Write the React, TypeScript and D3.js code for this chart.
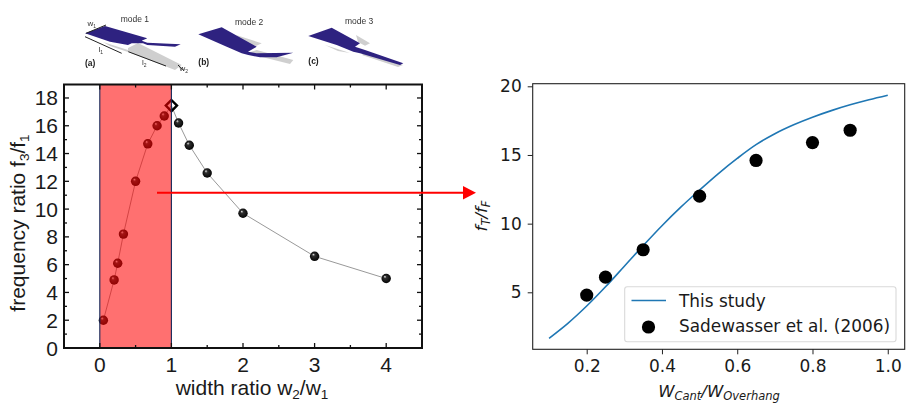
import { useEffect, useRef } from 'react';
import * as d3 from 'd3';

const ratioX = [0.05, 0.2, 0.25, 0.33, 0.5, 0.67, 0.8, 0.9, 1.0, 1.1, 1.25, 1.5, 2, 3, 4];
const ratioY = [2, 4.9, 6.1, 8.2, 12, 14.7, 16, 16.7, 17.45, 16.2, 14.6, 12.6, 9.7, 6.6, 5];
const diamondIndex = 8;
const bandRange = [0, 1];
const leftXTicks = [0, 1, 2, 3, 4];
const leftXMinor = [0.5, 1.5, 2.5, 3.5];
const leftYTicks = [0, 2, 4, 6, 8, 10, 12, 14, 16, 18];
const leftYMinor = [1, 3, 5, 7, 9, 11, 13, 15, 17];

const studyX = [0.1, 0.15, 0.2, 0.25, 0.3, 0.35, 0.4, 0.45, 0.5, 0.55, 0.6, 0.65, 0.7, 0.75, 0.8, 0.85, 0.9, 0.95, 1.0];
const studyY = [1.65, 2.74, 4.0, 5.4, 6.9, 8.4, 9.85, 11.2, 12.45, 13.65, 14.75, 15.75, 16.55, 17.2, 17.75, 18.23, 18.65, 19.02, 19.35];
const sadeX = [0.2, 0.25, 0.35, 0.5, 0.65, 0.8, 0.9];
const sadeY = [4.8, 6.1, 8.1, 12, 14.6, 15.9, 16.8];
const rightXTicks = [0.2, 0.4, 0.6, 0.8, 1.0];
const rightYTicks = [5, 10, 15, 20];
const legendLabels = ['This study', 'Sadewasser et al. (2006)'];

const modeLabels = ['mode 1', 'mode 2', 'mode 3'];
const panelLabels = ['(a)', '(b)', '(c)'];

const ARIAL = 'Liberation Sans, Arial, sans-serif';
const DEJAVU = 'DejaVu Sans, sans-serif';
const PURPLE = '#2e2180';
const GREY = '#cfcfcf';

function drawSketches(svg: d3.Selection<SVGSVGElement, unknown, null, undefined>) {
  const g = svg.append('g').attr('filter', 'url(#soft)');

  const greyShapes = [
    'M103,42 L128,50 L128,48 L138,43 L181.7,65 L175,70 L128,52 L110,46 Z',
    'M236,35 L261.7,43.3 L256,46 L248,44 Z',
    'M256.7,50 L293.3,60 L290,64 L246.7,53.3 Z',
    'M356,35 L370,43.3 L365,45.7 L358,42 Z',
    'M325,45 L350,53 L338,51 Z',
    'M365,52 L403,65 L398,67 L362,55 Z',
  ];
  const purpleShapes = [
    'M85,33.3 L105,26 L147.3,38.3 L141.7,40.7 L147.3,42.7 L180.7,44.3 L175,46.7 L147.3,45 L143,43.3 L131.7,43.3 L128,45 L110,41.7 Z',
    'M198.3,34.3 L221.7,27.3 L256.7,46.7 L248,51.7 L256.7,53.3 L293.3,52.7 L276.7,57.3 L260,57.3 L248.3,55 L241.7,53.3 L226.7,46.7 Z',
    'M308.3,36 L331.7,27.7 L360,43.3 L355,46.7 L365,50 L403.3,63.3 L400,65 L360,53.3 L353.3,51.7 L336.7,45 Z',
  ];
  greyShapes.forEach(d => g.append('path').attr('d', d).attr('fill', GREY));
  purpleShapes.forEach(d => g.append('path').attr('d', d).attr('fill', PURPLE));

  const dims = [
    { x1: 86, y1: 33.3, x2: 106, y2: 25 },
    { x1: 85, y1: 36.7, x2: 121.7, y2: 53.3 },
    { x1: 128.3, y1: 51.7, x2: 166, y2: 66 },
    { x1: 178, y1: 65, x2: 184, y2: 70.7 },
  ];
  dims.forEach(d => {
    g.append('line')
      .attr('x1', d.x1).attr('y1', d.y1)
      .attr('x2', d.x2).attr('y2', d.y2)
      .attr('stroke', '#222')
      .attr('stroke-width', 1);
  });

  const smallText = [
    { t: 'w', s: '1', x: 87.5, y: 26 },
    { t: 'l', s: '1', x: 98.5, y: 52 },
    { t: 'l', s: '2', x: 142, y: 65 },
    { t: 'w', s: '2', x: 179.5, y: 71 },
  ];
  smallText.forEach(d => {
    const t = g.append('text')
      .attr('x', d.x).attr('y', d.y)
      .attr('font-family', ARIAL)
      .attr('font-size', 8)
      .attr('fill', '#333');
    t.append('tspan').text(d.t);
    t.append('tspan').attr('font-size', 5).attr('dy', 1.5).text(d.s);
  });

  [{ x: 120.7, y: 22 }, { x: 235, y: 25 }, { x: 345, y: 24 }].forEach((d, i) => {
    g.append('text')
      .attr('x', d.x).attr('y', d.y)
      .attr('font-family', ARIAL)
      .attr('font-size', 8.5)
      .attr('fill', '#333')
      .text(modeLabels[i]);
  });

  [{ x: 85, y: 65.5 }, { x: 198.3, y: 65 }, { x: 308.3, y: 64 }].forEach((d, i) => {
    g.append('text')
      .attr('x', d.x).attr('y', d.y)
      .attr('font-family', ARIAL)
      .attr('font-size', 8.5)
      .attr('font-weight', 'bold')
      .attr('fill', '#222')
      .text(panelLabels[i]);
  });
}

function drawLeft(svg: d3.Selection<SVGSVGElement, unknown, null, undefined>) {
  const box = { left: 64, right: 422, top: 84.5, bottom: 348 };
  const x = d3.scaleLinear().domain([-0.5, 4.5]).range([box.left, box.right]);
  const y = d3.scaleLinear().domain([0, 18.97]).range([box.bottom, box.top]);
  const g = svg.append('g');
  const pts = ratioX.map((v, i) => ({ x: v, y: ratioY[i], i }));

  const line = d3.line<{ x: number; y: number }>().x(d => x(d.x)).y(d => y(d.y));
  g.append('path')
    .datum(pts)
    .attr('fill', 'none')
    .attr('stroke', '#999')
    .attr('stroke-width', 1)
    .attr('d', line);

  g.selectAll('.ball')
    .data(pts.filter(d => d.i !== diamondIndex))
    .enter()
    .append('circle')
    .attr('cx', d => x(d.x))
    .attr('cy', d => y(d.y))
    .attr('r', 4.7)
    .attr('fill', 'url(#ball)');

  const dp = pts[diamondIndex];
  g.append('path')
    .attr('d', d3.symbol(d3.symbolDiamond2, 80)())
    .attr('transform', `translate(${x(dp.x)},${y(dp.y)})`)
    .attr('fill', 'none')
    .attr('stroke', '#000')
    .attr('stroke-width', 2.4);

  // shaded band goes over the markers so they turn dark red
  g.append('rect')
    .attr('x', x(bandRange[0]))
    .attr('width', x(bandRange[1]) - x(bandRange[0]))
    .attr('y', box.top)
    .attr('height', box.bottom - box.top)
    .attr('fill', 'rgb(255,0,0)')
    .attr('fill-opacity', 0.56);
  bandRange.forEach(v => {
    g.append('line')
      .attr('x1', x(v)).attr('x2', x(v))
      .attr('y1', box.top).attr('y2', box.bottom)
      .attr('stroke', '#14285a')
      .attr('stroke-width', 1.1);
  });

  const frame = g.append('g').attr('stroke', '#111').attr('fill', 'none');
  frame.append('rect')
    .attr('x', box.left).attr('y', box.top)
    .attr('width', box.right - box.left).attr('height', box.bottom - box.top)
    .attr('stroke-width', 2);

  const xMarks = [...leftXTicks.map(v => ({ v, l: 5 })), ...leftXMinor.map(v => ({ v, l: 3 }))];
  const yMarks = [...leftYTicks.slice(1).map(v => ({ v, l: 5 })), ...leftYMinor.map(v => ({ v, l: 3 }))];
  xMarks.forEach(t => {
    frame.append('line').attr('x1', x(t.v)).attr('x2', x(t.v)).attr('y1', box.bottom).attr('y2', box.bottom - t.l).attr('stroke-width', 1.3);
    frame.append('line').attr('x1', x(t.v)).attr('x2', x(t.v)).attr('y1', box.top).attr('y2', box.top + t.l).attr('stroke-width', 1.3);
  });
  yMarks.forEach(t => {
    frame.append('line').attr('x1', box.left).attr('x2', box.left + t.l).attr('y1', y(t.v)).attr('y2', y(t.v)).attr('stroke-width', 1.3);
    frame.append('line').attr('x1', box.right).attr('x2', box.right - t.l).attr('y1', y(t.v)).attr('y2', y(t.v)).attr('stroke-width', 1.3);
  });

  const text = g.append('g').attr('font-family', ARIAL).attr('fill', '#1a1a1a');
  leftXTicks.forEach(v => {
    text.append('text')
      .attr('x', x(v)).attr('y', box.bottom + 24)
      .attr('text-anchor', 'middle')
      .attr('font-size', 21)
      .text(v);
  });
  leftYTicks.forEach(v => {
    text.append('text')
      .attr('x', box.left - 6).attr('y', y(v) + 7.5)
      .attr('text-anchor', 'end')
      .attr('font-size', 21)
      .text(v);
  });

  const xl = text.append('text')
    .attr('x', 252).attr('y', 395)
    .attr('text-anchor', 'middle')
    .attr('font-size', 21);
  xl.append('tspan').text('width ratio w');
  xl.append('tspan').attr('font-size', 13.5).attr('dy', 4).text('2');
  xl.append('tspan').attr('dy', -4).text('/w');
  xl.append('tspan').attr('font-size', 13.5).attr('dy', 4).text('1');

  const yl = text.append('text')
    .attr('transform', 'translate(25,223) rotate(-90)')
    .attr('text-anchor', 'middle')
    .attr('font-size', 21);
  yl.append('tspan').text('frequency ratio f');
  yl.append('tspan').attr('font-size', 13.5).attr('dy', 4).text('3');
  yl.append('tspan').attr('dy', -4).text('/f');
  yl.append('tspan').attr('font-size', 13.5).attr('dy', 4).text('1');
}

function drawRight(svg: d3.Selection<SVGSVGElement, unknown, null, undefined>) {
  const box = { left: 532.7, right: 904.7, top: 83.7, bottom: 349.3 };
  const x = d3.scaleLinear().domain([0.0565, 1.045]).range([box.left, box.right]);
  const y = d3.scaleLinear().domain([0.85, 20.19]).range([box.bottom, box.top]);
  const g = svg.append('g');

  const curve = d3.line<number>()
    .x((_, i) => x(studyX[i]))
    .y(d => y(d))
    .curve(d3.curveCatmullRom);
  g.append('path')
    .datum(studyY)
    .attr('fill', 'none')
    .attr('stroke', '#1f77b4')
    .attr('stroke-width', 1.6)
    .attr('d', curve);

  g.selectAll('.sade')
    .data(sadeX)
    .enter()
    .append('circle')
    .attr('cx', d => x(d))
    .attr('cy', (_, i) => y(sadeY[i]))
    .attr('r', 6.6)
    .attr('fill', '#000');

  g.append('rect')
    .attr('x', box.left).attr('y', box.top)
    .attr('width', box.right - box.left).attr('height', box.bottom - box.top)
    .attr('fill', 'none')
    .attr('stroke', '#222')
    .attr('stroke-width', 1.1);

  const xAxis = d3.axisBottom(x).tickValues(rightXTicks).tickSize(5).tickPadding(6).tickFormat(d3.format('.1f') as any);
  const yAxis = d3.axisLeft(y).tickValues(rightYTicks).tickSize(5).tickPadding(6).tickFormat(d3.format('d') as any);
  const gx = g.append('g').attr('transform', `translate(0,${box.bottom})`).call(xAxis);
  const gy = g.append('g').attr('transform', `translate(${box.left},0)`).call(yAxis);
  [gx, gy].forEach(a => {
    a.select('.domain').remove();
    a.selectAll('line').attr('stroke', '#222').attr('stroke-width', 1);
    a.selectAll('text')
      .attr('font-family', DEJAVU)
      .attr('font-size', 17)
      .attr('fill', '#1a1a1a');
  });

  const legend = g.append('g');
  legend.append('rect')
    .attr('x', 624.7).attr('y', 286.7)
    .attr('width', 271.3).attr('height', 55)
    .attr('rx', 2.5)
    .attr('fill', '#fff')
    .attr('fill-opacity', 0.85)
    .attr('stroke', '#d9d9d9')
    .attr('stroke-width', 1.1);
  legend.append('line')
    .attr('x1', 631.5).attr('x2', 666)
    .attr('y1', 300.5).attr('y2', 300.5)
    .attr('stroke', '#1f77b4')
    .attr('stroke-width', 1.6);
  legend.append('circle')
    .attr('cx', 648.5).attr('cy', 327)
    .attr('r', 6.6)
    .attr('fill', '#000');
  legendLabels.forEach((t, i) => {
    legend.append('text')
      .attr('x', 679).attr('y', 306.5 + i * 25)
      .attr('font-family', DEJAVU)
      .attr('font-size', 16.9)
      .attr('fill', '#1a1a1a')
      .text(t);
  });

  const xl = g.append('text')
    .attr('x', 719).attr('y', 397)
    .attr('text-anchor', 'middle')
    .attr('font-family', DEJAVU)
    .attr('font-style', 'italic')
    .attr('font-size', 16.5)
    .attr('fill', '#1a1a1a');
  xl.append('tspan').text('W');
  xl.append('tspan').attr('font-size', 11.5).attr('dy', 3).text('Cant');
  xl.append('tspan').attr('dy', -3).text('/W');
  xl.append('tspan').attr('font-size', 11.5).attr('dy', 3).text('Overhang');

  const yl = g.append('text')
    .attr('transform', 'translate(487,216) rotate(-90)')
    .attr('text-anchor', 'middle')
    .attr('font-family', DEJAVU)
    .attr('font-style', 'italic')
    .attr('font-size', 16.5)
    .attr('fill', '#1a1a1a');
  yl.append('tspan').text('f');
  yl.append('tspan').attr('font-size', 11.5).attr('dy', 3).text('T');
  yl.append('tspan').attr('dy', -3).text('/f');
  yl.append('tspan').attr('font-size', 11.5).attr('dy', 3).text('F');
}

export default function App() {
  const svgRef = useRef<SVGSVGElement>(null);

  useEffect(() => {
    if (!svgRef.current) return;
    const svg = d3.select(svgRef.current);
    svg.selectAll('*').remove();

    const defs = svg.append('defs');
    const ball = defs.append('radialGradient')
      .attr('id', 'ball')
      .attr('cx', '50%').attr('cy', '50%').attr('r', '55%')
      .attr('fx', '35%').attr('fy', '28%');
    ball.append('stop').attr('offset', '0%').attr('stop-color', '#f4f4f4');
    ball.append('stop').attr('offset', '28%').attr('stop-color', '#303030');
    ball.append('stop').attr('offset', '100%').attr('stop-color', '#000');
    defs.append('filter')
      .attr('id', 'soft')
      .append('feGaussianBlur')
      .attr('stdDeviation', 0.4);

    drawSketches(svg);
    drawLeft(svg);
    drawRight(svg);

    // arrow from the shaded band across to the right plot
    const arrow = svg.append('g');
    arrow.append('line')
      .attr('x1', 157).attr('x2', 465)
      .attr('y1', 192.7).attr('y2', 192.7)
      .attr('stroke', '#ff0000')
      .attr('stroke-width', 2);
    arrow.append('path')
      .attr('d', 'M463,186 L476,192.7 L463,199.4 Z')
      .attr('fill', '#ff0000');
  }, []);

  return (
    <svg
      ref={svgRef}
      width={922}
      height={415}
      style={{ position: 'absolute', left: 0, top: 0, background: '#fff' }}
    />
  );
}
